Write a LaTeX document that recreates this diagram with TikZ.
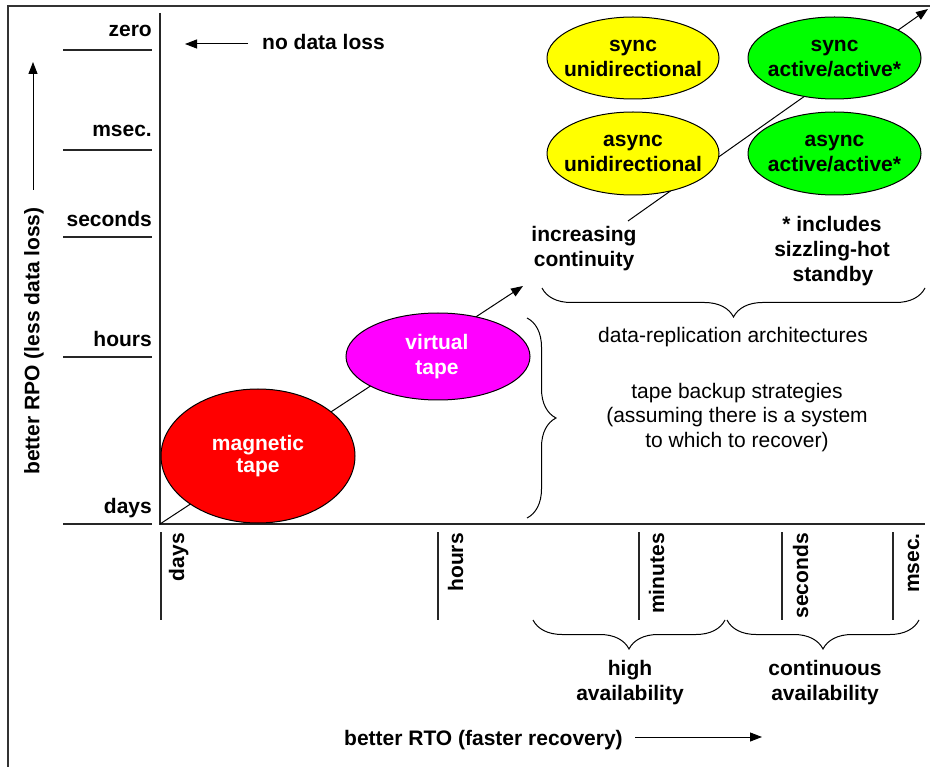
\documentclass[tikz,border=0pt]{standalone}
\usepackage{fontspec}
\setmainfont{Liberation Sans}
\usetikzlibrary{arrows.meta,decorations.pathreplacing,shapes.geometric}
\definecolor{ylw}{RGB}{255,255,0}
\definecolor{grn}{RGB}{0,255,0}
\definecolor{rd}{RGB}{255,0,0}
\definecolor{mag}{RGB}{255,0,255}
\begin{document}
\begin{tikzpicture}[x=1pt,y=-1pt,
  lbl/.style={font=\bfseries\fontsize{21}{25}\selectfont, inner sep=0pt},
  plain/.style={font=\fontsize{21}{25}\selectfont, inner sep=0pt},
  wlbl/.style={lbl, text=white},
  oval/.style={ellipse, draw=black, line width=1pt, inner sep=0pt},
  axisline/.style={line width=1.3pt, draw=black!85},
  arr/.style={-{Triangle[length=12pt,width=9pt]}, line width=1pt},
  brc/.style={decorate, decoration={brace, amplitude=29pt}, line width=1pt},
]
\useasboundingbox (0,0) rectangle (930,767);
% frame
\draw[line width=1.5pt, draw=black!80] (8,767) -- (8,6) -- (930,6);
% axes
\coordinate (ytop) at (160,13);
\coordinate (orig) at (160,524);
\coordinate (xend) at (925,524);
\draw[axisline] (ytop) -- (orig) -- (xend);
% y ticks
\foreach \yy in {50,150,237,357,524}{\draw[axisline] (63,\yy) -- (152,\yy);}
% x ticks
\foreach \xx in {161,438,639,782,893}{\draw[axisline] (\xx,532) -- (\xx,620);}
% y labels
\node[lbl, anchor=base east] (yzero) at (152,37) {zero};
\node[lbl, anchor=base east] (ymsec) at (152,137) {msec.};
\node[lbl, anchor=base east] (ysec) at (152,227) {seconds};
\node[lbl, anchor=base east] (yhrs) at (152,347) {hours};
\node[lbl, anchor=base east] (ydays) at (152,513) {days};
% x labels
\node[lbl, rotate=90, anchor=base east] (xdays) at (184,533) {days};
\node[lbl, rotate=90, anchor=base east] (xhrs) at (463,533) {hours};
\node[lbl, rotate=90, anchor=base east] (xmin) at (664,533) {minutes};
\node[lbl, rotate=90, anchor=base east] (xsec) at (808,533) {seconds};
\node[lbl, rotate=90, anchor=base east] (xmsec) at (919,533) {msec.};
% axis titles
\node[lbl, rotate=90] (ytitle) at (34,341) {better RPO (less data loss)};
\coordinate (ya1) at (33,190);
\coordinate (ya2) at (33,62);
\draw[arr] (ya1) -- (ya2);
\node[lbl, anchor=base west] (xtitle) at (344,745) {better RTO (faster recovery)};
\coordinate (xa1) at (635,737);
\coordinate (xa2) at (762,737);
\draw[arr] (xa1) -- (xa2);
% no data loss
\node[lbl, anchor=base west] (ndl) at (262,50) {no data loss};
\coordinate (nd1) at (248,44);
\coordinate (nd2) at (185,44);
\draw[arr] (nd1) -- (nd2);
% diagonal trend lines
\coordinate (ictip) at (523,286);
\draw[arr] (orig) -- (ictip);
\coordinate (s2a) at (628,221);
\coordinate (s2b) at (928,9);
\draw[arr] (s2a) -- (s2b);
% ellipses
\node[oval, fill=rd, minimum width=194pt, minimum height=134pt] (mt) at (258,456) {};
\node[oval, fill=mag, minimum width=184pt, minimum height=87pt] (vt) at (438,356.5) {};
\node[oval, fill=ylw, minimum width=172pt, minimum height=82pt] (su) at (633,58) {};
\node[oval, fill=ylw, minimum width=172pt, minimum height=83pt] (au) at (633,153.5) {};
\node[oval, fill=grn, minimum width=173pt, minimum height=82pt] (sa) at (834.5,58) {};
\node[oval, fill=grn, minimum width=173pt, minimum height=83pt] (aa) at (834.5,153.5) {};
% ellipse texts
\node[wlbl, anchor=base] (mt1) at (258,450) {magnetic};
\node[wlbl, anchor=base] (mt2) at (258,473) {tape};
\node[wlbl, anchor=base] (vt1) at (437,350) {virtual};
\node[wlbl, anchor=base] (vt2) at (437,375) {tape};
\node[lbl, anchor=base] (su1) at (633,52) {sync};
\node[lbl, anchor=base] (su2) at (633,77) {unidirectional};
\node[lbl, anchor=base] (au1) at (633,147) {async};
\node[lbl, anchor=base] (au2) at (633,172) {unidirectional};
\node[lbl, anchor=base] (sa1) at (834.5,52) {sync};
\node[lbl, anchor=base] (sa2) at (834.5,77) {active/active*};
\node[lbl, anchor=base] (aa1) at (834.5,147) {async};
\node[lbl, anchor=base] (aa2) at (834.5,172) {active/active*};
% side texts
\node[lbl, anchor=base] (ic1) at (584,242) {increasing};
\node[lbl, anchor=base] (ic2) at (584,267) {continuity};
\node[lbl, anchor=base] (sz1) at (832,232) {* includes};
\node[lbl, anchor=base] (sz2) at (832,257) {sizzling-hot};
\node[lbl, anchor=base] (sz3) at (833,282) {standby};
\node[plain, anchor=base] (dr) at (733,343) {data-replication architectures};
\node[plain, anchor=base] (tb1) at (737,399) {tape backup strategies};
\node[plain, anchor=base] (tb2) at (737,423) {(assuming there is a system};
\node[plain, anchor=base] (tb3) at (737,448) {to which to recover)};
\node[lbl, anchor=base] (ha1) at (630,675) {high};
\node[lbl, anchor=base] (ha2) at (630,700) {availability};
\node[lbl, anchor=base] (ca1) at (825,675) {continuous};
\node[lbl, anchor=base] (ca2) at (825,700) {availability};
% braces
\coordinate (b1a) at (925,288);
\coordinate (b1b) at (542,288);
\draw[brc] (b1a) -- (b1b);
\coordinate (b2a) at (527,318);
\coordinate (b2b) at (527,518);
\draw[brc] (b2a) -- (b2b);
\coordinate (b3a) at (725,620);
\coordinate (b3b) at (533,620);
\draw[brc] (b3a) -- (b3b);
\coordinate (b4a) at (919,620);
\coordinate (b4b) at (727,620);
\draw[brc] (b4a) -- (b4b);
\end{tikzpicture}
\end{document}
